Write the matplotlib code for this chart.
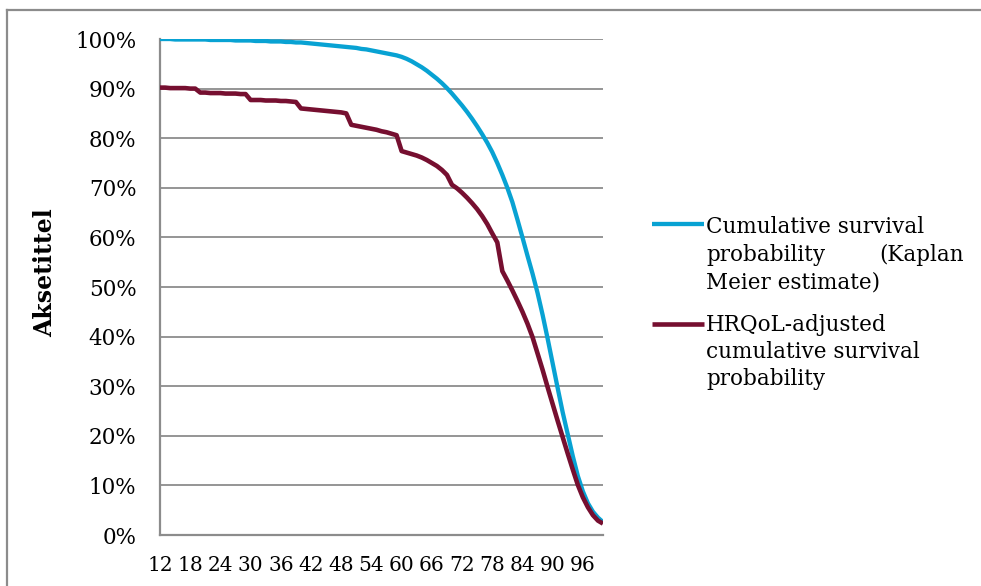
import matplotlib
matplotlib.use("Agg")
import matplotlib.pyplot as plt
from matplotlib.lines import Line2D
from matplotlib.ticker import FixedLocator, FuncFormatter

# ---------------- data ----------------
ages = list(range(12, 101))

km_survival = [
    100.0, 100.0, 100.0, 99.9, 99.9, 99.9, 99.9, 99.9,            # 12-19
    99.9, 99.9, 99.8, 99.8, 99.8, 99.8, 99.8, 99.7, 99.7, 99.7,    # 20-29
    99.7, 99.6, 99.6, 99.6, 99.5, 99.5, 99.5, 99.4, 99.4, 99.3,    # 30-39
    99.3, 99.2, 99.1, 99.0, 98.9, 98.8, 98.7, 98.6, 98.5, 98.4,    # 40-49
    98.3, 98.2, 98.0, 97.9, 97.7, 97.5, 97.3, 97.1, 96.9, 96.7,    # 50-59
    96.4, 96.0, 95.5, 94.9, 94.3, 93.6, 92.8, 92.0, 91.1, 90.1,    # 60-69
    89.0, 87.8, 86.6, 85.3, 83.9, 82.4, 80.8, 79.1, 77.2, 75.0,    # 70-79
    72.6, 70.0, 67.1, 63.6, 60.0, 56.3, 52.7, 48.8, 44.4, 39.6,    # 80-89
    34.6, 29.6, 24.7, 20.3, 15.9, 11.9, 8.8, 6.4, 4.7, 3.5,        # 90-99
    2.6,                                                           # 100
]

hrqol_survival = [
    90.2, 90.2, 90.1, 90.1, 90.1, 90.1, 90.0, 90.0,                # 12-19
    89.2, 89.2, 89.1, 89.1, 89.1, 89.0, 89.0, 89.0, 88.9, 88.9,    # 20-29
    87.7, 87.7, 87.7, 87.6, 87.6, 87.6, 87.5, 87.5, 87.4, 87.3,    # 30-39
    86.0, 85.9, 85.8, 85.7, 85.6, 85.5, 85.4, 85.3, 85.2, 85.0,    # 40-49
    82.7, 82.5, 82.3, 82.1, 81.9, 81.7, 81.4, 81.2, 80.9, 80.6,    # 50-59
    77.4, 77.1, 76.8, 76.5, 76.1, 75.6, 75.0, 74.4, 73.6, 72.6,    # 60-69
    70.6, 69.9, 69.0, 68.0, 66.9, 65.7, 64.3, 62.7, 60.8, 59.0,    # 70-79
    53.2, 51.3, 49.3, 47.2, 45.0, 42.6, 39.9, 36.6, 33.3, 29.8,    # 80-89
    26.4, 23.0, 19.7, 16.4, 13.2, 10.1, 7.6, 5.6, 4.0, 2.9,        # 90-99
    2.3,                                                           # 100
]

series_labels = [
    "Cumulative survival probability (Kaplan Meier estimate)",
    "HRQoL-adjusted cumulative survival probability",
]
y_title = "Aksetittel"
tick_every = 6

# ---------------- style ----------------
W, H = 981, 586
FONT = "DejaVu Serif"
plt.rcParams["font.family"] = [FONT, "DejaVu Sans"]
BLUE = "#08A2D3"
MAROON = "#760F30"
GRID = "#8C8C8C"


def fx(x):
    return x / W


def fy(y):
    return 1 - y / H


fig = plt.figure(figsize=(W / 100, H / 100), dpi=100)
ax = fig.add_axes([fx(160), fy(535), fx(603) - fx(160), fy(39) - fy(535)])

xs = list(range(len(ages)))
ax.plot(xs, km_survival, color=BLUE, lw=3.1, solid_capstyle="butt",
        solid_joinstyle="round", zorder=3, label=series_labels[0])
ax.plot(xs, hrqol_survival, color=MAROON, lw=3.3, solid_capstyle="butt",
        solid_joinstyle="round", zorder=4, label=series_labels[1])

ax.set_xlim(0, len(ages) - 1)
ax.set_ylim(0, 100)

tick_pos = [i for i, a in enumerate(ages) if (a - ages[0]) % tick_every == 0 and a <= 96]
ax.xaxis.set_major_locator(FixedLocator(tick_pos))
ax.set_xticklabels([str(ages[i]) for i in tick_pos])
ax.yaxis.set_major_locator(FixedLocator(list(range(0, 101, 10))))
ax.yaxis.set_major_formatter(FuncFormatter(lambda v, p: f"{int(round(v))}%"))

ax.tick_params(axis="y", length=0, pad=17, labelsize=15.5, labelcolor="black")
ax.tick_params(axis="x", length=0, pad=15, labelsize=14.5, labelcolor="black")

ax.grid(axis="y", color=GRID, lw=1.3, zorder=1)
ax.set_axisbelow(True)
for side in ("top", "right"):
    ax.spines[side].set_visible(False)
for side in ("left", "bottom"):
    ax.spines[side].set_color(GRID)
    ax.spines[side].set_linewidth(1.6)
    ax.spines[side].set_zorder(2)

fig.text(fx(45), fy(273), y_title, rotation=90, ha="center", va="center",
         fontsize=17, fontweight="bold", color="black")

# ---------------- legend (manual, wrapped like the original) ----------------
LEG_FS = 15.5
fig.add_artist(Line2D([fx(652), fx(704)], [fy(224), fy(224)],
                      color=BLUE, lw=3.1, solid_capstyle="butt"))
fig.text(fx(706), fy(233), "Cumulative survival", fontsize=LEG_FS, va="baseline")
fig.text(fx(706), fy(261), "probability", fontsize=LEG_FS, va="baseline")
fig.text(fx(964), fy(261), "(Kaplan", fontsize=LEG_FS, va="baseline", ha="right")
fig.text(fx(706), fy(289), "Meier estimate)", fontsize=LEG_FS, va="baseline")

fig.add_artist(Line2D([fx(652), fx(704)], [fy(324), fy(324)],
                      color=MAROON, lw=3.3, solid_capstyle="butt"))
fig.text(fx(706), fy(331), "HRQoL-adjusted", fontsize=LEG_FS, va="baseline")
fig.text(fx(706), fy(358), "cumulative survival", fontsize=LEG_FS, va="baseline")
fig.text(fx(706), fy(385), "probability", fontsize=LEG_FS, va="baseline")

# ---------------- outer chart frame (partly cropped in the original) ----------------
fig.add_artist(Line2D([fx(7), 1.0], [fy(10), fy(10)], color=GRID, lw=1.6))
fig.add_artist(Line2D([fx(7), fx(7)], [fy(10), 0.0], color=GRID, lw=1.6))

fig.savefig("out.png", dpi=100)
